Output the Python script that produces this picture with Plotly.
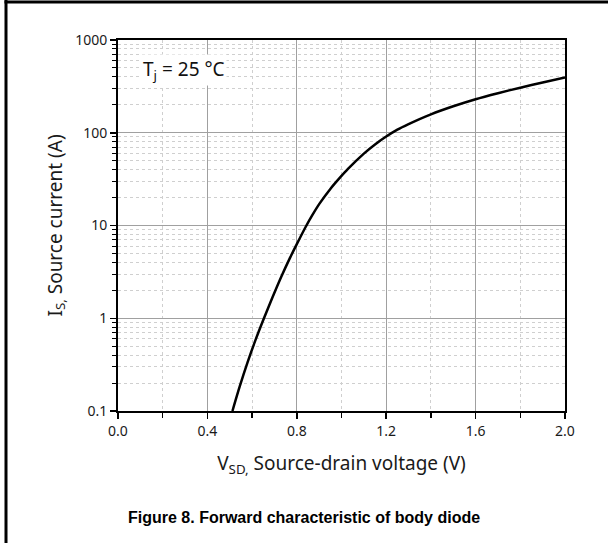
import plotly.graph_objects as go

# Data
v_sd = [0.512, 0.545, 0.58, 0.615, 0.653, 0.69, 0.73, 0.77, 0.80, 0.84, 0.87, 0.90,
        0.95, 0.99, 1.03, 1.10, 1.15, 1.20, 1.25, 1.30, 1.40, 1.50, 1.60, 1.70,
        1.80, 1.90, 2.00]
i_s = [0.1, 0.185, 0.336, 0.58, 1.0, 1.65, 2.78, 4.5, 6.3, 9.7, 13.0, 17.0,
       24.8, 32.2, 41, 59.6, 74.8, 91, 108, 124, 158, 193, 230, 267,
       306, 348, 394]

x_tickvals = [0.0, 0.4, 0.8, 1.2, 1.6, 2.0]
x_ticktext = ["0.0", "0.4", "0.8", "1.2", "1.6", "2.0"]
y_tickvals = [0.1, 1, 10, 100, 1000]
y_ticktext = ["0.1", "1", "10", "100", "1000"]
y_minor = [m * d for d in [0.1, 1, 10, 100] for m in range(2, 10)]

W, H = 608, 543
ML, MR, MT, MB = 118, 43, 40, 132

FONT = "Noto Sans"

fig = go.Figure()
fig.add_trace(go.Scatter(
    x=v_sd, y=i_s, mode="lines",
    line=dict(color="black", width=2.5, shape="spline", smoothing=0.8),
    showlegend=False, hoverinfo="skip",
))

fig.update_layout(
    width=W, height=H,
    margin=dict(l=ML, r=MR, t=MT, b=MB, pad=0),
    paper_bgcolor="white", plot_bgcolor="white",
    font=dict(family=FONT, size=14, color="#1a1a1a"),
    showlegend=False,
)

fig.update_xaxes(
    range=[0, 2.0],
    tickmode="array", tickvals=x_tickvals, ticktext=x_ticktext,
    ticks="outside", ticklen=6, tickwidth=1.5, tickcolor="black",
    showline=True, linecolor="black", linewidth=2, mirror=True,
    showgrid=True, gridcolor="#a0a0a0", gridwidth=1,
    minor=dict(dtick=0.2, ticks="outside", ticklen=5, tickwidth=1.5, tickcolor="black",
               showgrid=True, gridcolor="#cfcfcf", griddash="dot", gridwidth=1),
    zeroline=False,
    tickfont=dict(size=14),
    title=dict(text="V<sub>SD,</sub> Source-drain voltage (V)", font=dict(size=19), standoff=18),
)

fig.update_yaxes(
    type="log", range=[-1, 3],
    tickmode="array", tickvals=y_tickvals, ticktext=y_ticktext,
    ticks="outside", ticklen=6, tickwidth=1.5, tickcolor="black",
    showline=True, linecolor="black", linewidth=2, mirror=True,
    showgrid=True, gridcolor="#a0a0a0", gridwidth=1,
    minor=dict(tickmode="array", tickvals=y_minor, ticks="outside", ticklen=4, tickwidth=1,
               tickcolor="black", showgrid=True, gridcolor="#cfcfcf", griddash="dot", gridwidth=1),
    zeroline=False,
    tickfont=dict(size=14),
    title=dict(text="I<sub>S,</sub> Source current (A)", font=dict(size=19), standoff=8),
)

fig.add_annotation(
    x=0.052, y=0.918, xref="paper", yref="paper", xanchor="left", yanchor="middle",
    text="T<sub>j</sub> = 25 °C", showarrow=False, bgcolor="white",
    font=dict(family=FONT, size=19, color="#111111"),
)

# Caption
fig.add_annotation(
    x=(W / 2 - ML) / (W - ML - MR), y=-(517 - (H - MB)) / (H - MT - MB),
    xref="paper", yref="paper", xanchor="center", yanchor="middle",
    text="<b>Figure 8. Forward characteristic of body diode</b>", showarrow=False,
    font=dict(family="Liberation Sans", size=16, color="black"),
)

# Page frame (left and top edge lines)
pw, ph = W - ML - MR, H - MT - MB
def px_x(p):
    return (p - ML) / pw
def px_y(p):
    return (H - MB - p) / ph

fig.add_shape(type="line", xref="paper", yref="paper",
              x0=px_x(6), x1=px_x(6), y0=px_y(0), y1=px_y(H),
              line=dict(color="black", width=3))
fig.add_shape(type="line", xref="paper", yref="paper",
              x0=px_x(4.5), x1=px_x(W), y0=px_y(2), y1=px_y(2),
              line=dict(color="black", width=3))

fig.write_html("out.html",
               config={"displayModeBar": False, "staticPlot": True},
               post_script="document.body.style.margin='0';document.body.style.overflow='hidden';")
